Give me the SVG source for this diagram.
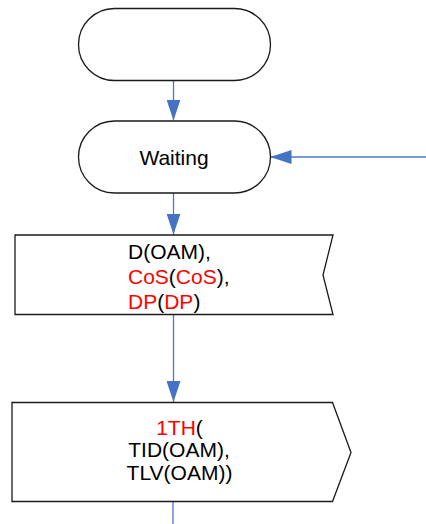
<svg xmlns="http://www.w3.org/2000/svg" width="426" height="524" viewBox="0 0 426 524">
<defs>
<style>
.node{fill:#ffffff;stroke:#1a1a1a;stroke-width:1.3}
.conn{stroke:#4a7ac6;stroke-width:1.3;fill:none}
.t{font-family:"Liberation Sans",Arial,sans-serif;font-size:21px;fill:#000000}
.r{fill:#ff0000}
</style>
<marker id="ah" viewBox="0 0 21 14" refX="21" refY="7" markerWidth="21" markerHeight="14" markerUnits="userSpaceOnUse" orient="auto">
<path d="M0,0 L21,7 L0,14 Z" fill="#4472c4"/>
</marker>
</defs>
<rect width="426" height="524" fill="#ffffff"/>
<g id="connectors">
<line class="conn" x1="173.5" y1="80" x2="173.5" y2="120.5" marker-end="url(#ah)"/>
<line class="conn" x1="426" y1="157" x2="270.5" y2="157" marker-end="url(#ah)"/>
<line class="conn" x1="173.5" y1="193" x2="173.5" y2="234.5" marker-end="url(#ah)"/>
<line class="conn" x1="173.5" y1="315" x2="173.5" y2="402" marker-end="url(#ah)"/>
<line class="conn" x1="173" y1="502" x2="173" y2="524"/>
</g>
<g id="start">
<rect class="node" x="78.5" y="8.5" width="192" height="72" rx="36" ry="36"/>
</g>
<g id="waiting">
<rect class="node" x="78.5" y="121" width="192" height="72" rx="36" ry="36"/>
<text class="t" x="174" y="164.5" text-anchor="middle">Waiting</text>
</g>
<g id="input">
<path class="node" d="M15,235 L333,235 L323,275 L333,314.5 L15,314.5 Z"/>
<text class="t" x="128" y="259">D(OAM),</text>
<text class="t" x="128" y="283.5"><tspan class="r">CoS</tspan>(<tspan class="r">CoS</tspan>),</text>
<text class="t" x="128" y="308.5"><tspan class="r">DP</tspan>(<tspan class="r">DP</tspan>)</text>
</g>
<g id="output">
<path class="node" d="M12,402.5 L332.5,402.5 L351,452.5 L332.5,501.5 L12,501.5 Z"/>
<text class="t" x="179.5" y="434.5" text-anchor="middle"><tspan class="r">1TH</tspan>(</text>
<text class="t" x="179" y="457" text-anchor="middle">TID(OAM),</text>
<text class="t" x="179.5" y="480" text-anchor="middle">TLV(OAM))</text>
</g>
</svg>
